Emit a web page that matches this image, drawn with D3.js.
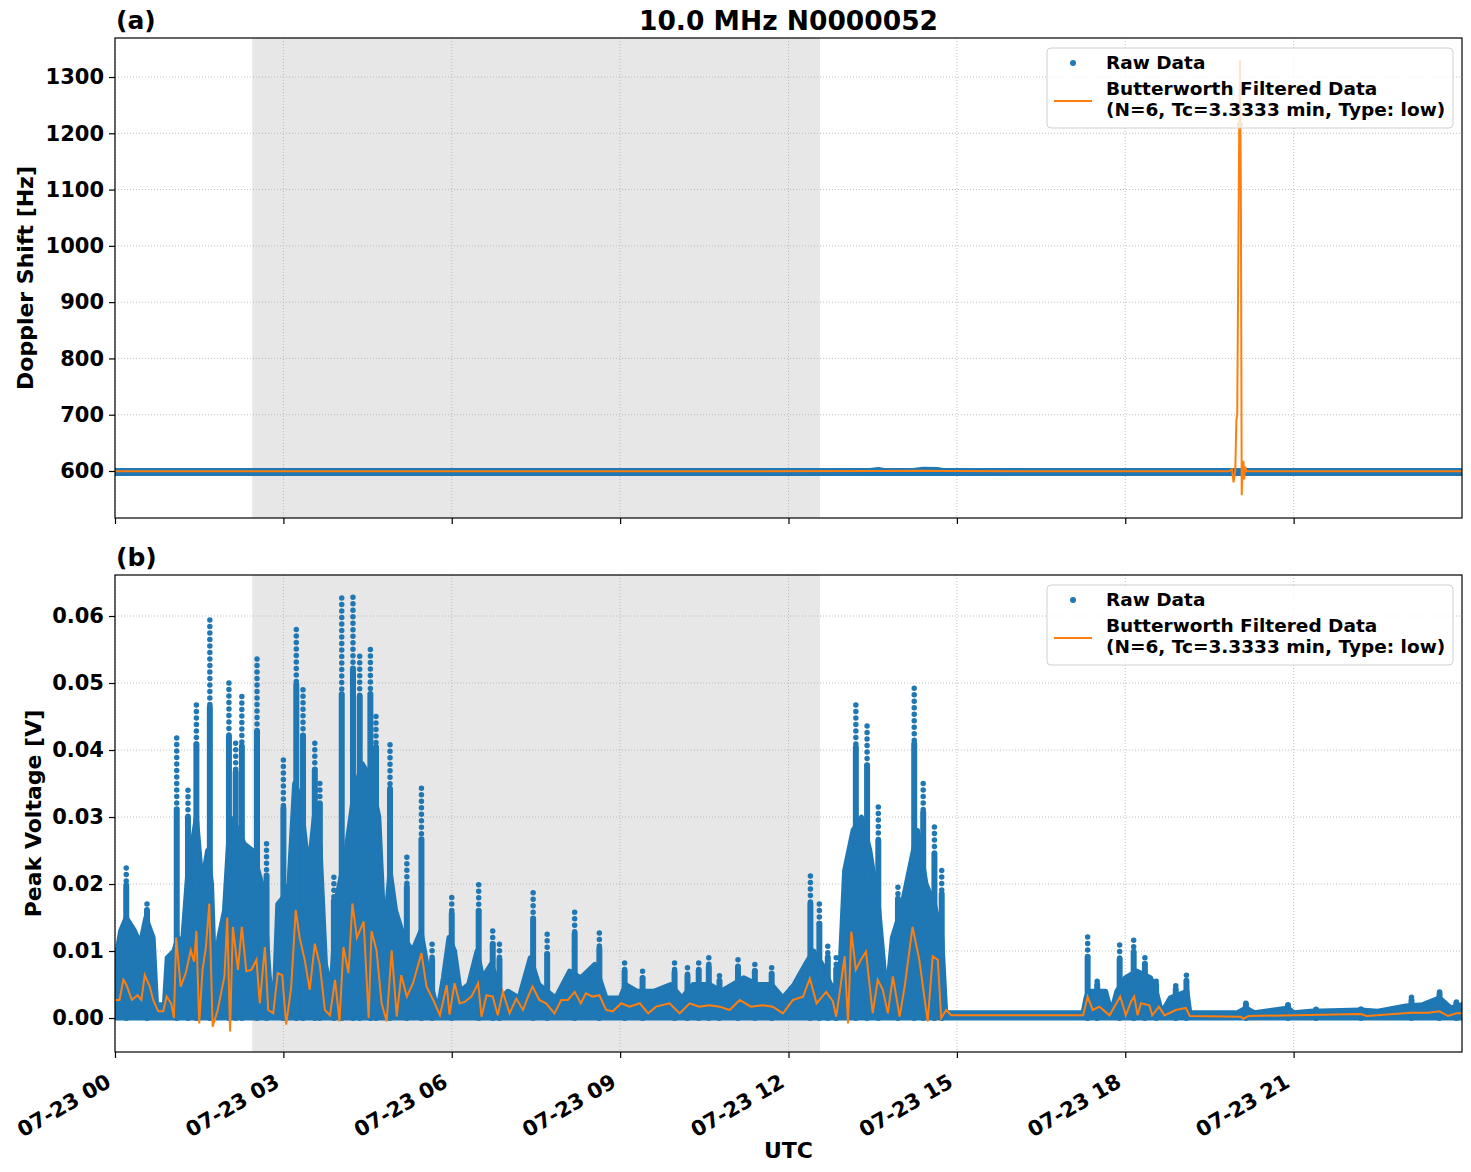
<!DOCTYPE html>
<html>
<head>
<meta charset="utf-8">
<script src="https://cdn.jsdelivr.net/npm/d3@7"></script>
<style>
body { margin: 0; background: #fff; }
text { font-family: 'DejaVu Sans', sans-serif; font-weight: bold; fill: #000; }
</style>
</head>
<body>
<svg id="chart" width="1471" height="1172"></svg>
<script>

// hours after 07-23 00:00 UTC
const xTickHours = [0, 3, 6, 9, 12, 15, 18, 21]
const yTicksA = [600, 700, 800, 900, 1000, 1100, 1200, 1300]
const yTicksB = [0, 0.01, 0.02, 0.03, 0.04, 0.05, 0.06]
const shadeHours = [2.445, 12.56]

// panel (a) raw band: [hour, low, high]
const rawBandA = [
	[0, 595.5, 601], [13.45, 595.5, 601], [13.6, 595.5, 602.5], [13.7, 595.5, 601],
	[14.25, 595.5, 601.5], [14.4, 595.5, 603], [14.65, 595.5, 602.5], [14.75, 595.5, 601],
	[24, 595.5, 601]
]
const rawOutliersA = [[20.04, 1215]]

// panel (a) filtered: [hour, Hz]
const filtA = [
	[0, 599.5], [13.5, 599.8], [14.4, 600.5], [14.8, 599.8], [19.85, 599.5], [19.9, 603],
	[19.93, 580], [19.96, 600], [19.98, 690], [19.995, 700], [20.03, 1200], [20.045, 1330],
	[20.06, 1100], [20.075, 557], [20.09, 600], [20.105, 618], [20.12, 585], [20.135, 608],
	[20.16, 599.5], [24, 599.5]
]

// panel (b) dense part of raw data: [hour, top]
const rawBodyB = [
	[0, 0.008], [0.1, 0.013], [0.2, 0.015], [0.35, 0.013], [0.45, 0.011], [0.55, 0.015], [0.68, 0.012],
	[0.74, 0.002], [0.88, 0.002], [0.93, 0.009], [1.05, 0.010], [1.12, 0.012], [1.2, 0.011], [1.3, 0.022],
	[1.45, 0.030], [1.55, 0.020], [1.65, 0.025], [1.72, 0.020], [1.78, 0.005], [1.85, 0.012], [1.95, 0.016],
	[2.05, 0.030], [2.2, 0.028], [2.3, 0.026], [2.45, 0.025], [2.55, 0.022], [2.65, 0.019], [2.75, 0.006],
	[2.83, 0.001], [2.9, 0.017], [3.0, 0.018], [3.1, 0.020], [3.2, 0.035], [3.3, 0.033], [3.45, 0.022],
	[3.55, 0.030], [3.65, 0.026], [3.75, 0.008], [3.85, 0.004], [3.95, 0.018], [4.1, 0.024], [4.25, 0.033],
	[4.4, 0.038], [4.55, 0.036], [4.7, 0.030], [4.8, 0.012], [4.9, 0.022], [5.0, 0.016], [5.15, 0.012],
	[5.3, 0.010], [5.45, 0.013], [5.6, 0.006], [5.75, 0.001], [5.85, 0.006], [5.95, 0.012], [6.05, 0.010],
	[6.15, 0.004], [6.3, 0.005], [6.45, 0.010], [6.55, 0.006], [6.7, 0.008], [6.8, 0.006], [6.9, 0.003],
	[7.0, 0.004], [7.2, 0.003], [7.4, 0.009], [7.55, 0.005], [7.7, 0.004], [7.85, 0.003], [8.1, 0.007],
	[8.3, 0.006], [8.55, 0.008], [8.75, 0.003], [9.0, 0.003], [9.1, 0.005], [9.3, 0.004], [9.6, 0.004],
	[9.9, 0.005], [10.1, 0.003], [10.3, 0.005], [10.6, 0.005], [10.8, 0.004], [11.0, 0.005], [11.2, 0.006],
	[11.45, 0.005], [11.7, 0.005], [11.9, 0.003], [12.1, 0.005], [12.3, 0.008], [12.45, 0.010], [12.6, 0.008],
	[12.75, 0.005], [12.9, 0.004], [13.0, 0.022], [13.15, 0.028], [13.3, 0.030], [13.45, 0.025], [13.6, 0.017],
	[13.75, 0.003], [13.85, 0.012], [14.0, 0.016], [14.15, 0.022], [14.3, 0.028], [14.45, 0.020], [14.6, 0.017],
	[14.73, 0.012], [14.8, 0.001], [14.85, 0.0008], [17.25, 0.0008], [17.3, 0.003], [17.35, 0.004], [17.5, 0.004],
	[17.65, 0.004], [17.75, 0.0008], [17.85, 0.004], [18.0, 0.006], [18.2, 0.007], [18.45, 0.006], [18.55, 0.004],
	[18.65, 0.0008], [18.8, 0.003], [19.1, 0.004], [19.15, 0.0008], [20.0, 0.0008], [20.15, 0.0015], [20.3, 0.0008],
	[20.9, 0.0015], [21.0, 0.0008], [21.3, 0.001], [22.2, 0.0012], [22.5, 0.001], [23.0, 0.0018], [23.3, 0.002],
	[23.6, 0.003], [23.8, 0.0015], [24, 0.002]
]

// panel (b) raw peaks: [hour, max]
const rawPeaksB = [
	[0.2, 0.0224], [0.57, 0.017], [1.1, 0.0418], [1.3, 0.034], [1.45, 0.0467], [1.69, 0.0594], [2.03, 0.050],
	[2.15, 0.041], [2.26, 0.048], [2.53, 0.0536], [2.7, 0.026], [3.0, 0.0385], [3.23, 0.058], [3.35, 0.049],
	[3.56, 0.041], [3.65, 0.035], [3.9, 0.021], [4.04, 0.0627], [4.24, 0.0628], [4.36, 0.054], [4.55, 0.055],
	[4.65, 0.045], [4.9, 0.0408], [5.2, 0.024], [5.46, 0.0343], [5.65, 0.011], [6.0, 0.018], [6.48, 0.0199],
	[6.73, 0.013], [6.85, 0.011], [7.45, 0.0187], [7.7, 0.0125], [8.19, 0.0158], [8.63, 0.0127], [9.08, 0.0082],
	[9.4, 0.007], [9.97, 0.0082], [10.2, 0.0075], [10.4, 0.0082], [10.58, 0.009], [10.77, 0.0063], [11.1, 0.0087],
	[11.4, 0.008], [11.7, 0.0075], [12.39, 0.0212], [12.55, 0.017], [12.7, 0.0107], [12.85, 0.009], [13.2, 0.0467],
	[13.4, 0.0436], [13.6, 0.0315], [13.95, 0.0195], [14.24, 0.0492], [14.4, 0.035], [14.6, 0.0285], [14.73, 0.022],
	[17.33, 0.0121], [17.5, 0.0055], [17.9, 0.0109], [18.15, 0.0116], [18.35, 0.009], [18.55, 0.0055], [18.9, 0.0048],
	[19.09, 0.0064], [20.15, 0.0022], [20.9, 0.002], [21.4, 0.0013], [22.2, 0.0013], [23.1, 0.0031], [23.6, 0.0039],
	[23.9, 0.0024]
]

// panel (b) filtered: [hour, V]
const filtB = [
	[0, 0.0027], [0.08, 0.0027], [0.15, 0.0057], [0.2, 0.005], [0.3, 0.0027], [0.4, 0.0034], [0.47, 0.0027],
	[0.53, 0.0064], [0.62, 0.0047], [0.68, 0.0027], [0.77, 0.001], [0.86, 0.001], [0.92, 0.0032], [1.0, 0.0022],
	[1.05, 0], [1.09, 0.012], [1.17, 0.0047], [1.26, 0.0067], [1.35, 0.0101], [1.41, 0.0084], [1.45, 0.013],
	[1.5, -0.0008], [1.56, 0.0072], [1.62, 0.0106], [1.68, 0.0171], [1.74, -0.0013], [1.83, 0.0012], [1.95, 0.0062],
	[2.0, 0.015], [2.05, -0.002], [2.1, 0.0136], [2.19, 0.0072], [2.26, 0.0136], [2.34, 0.007], [2.43, 0.0072],
	[2.52, 0.0087], [2.58, 0.0022], [2.67, 0.0106], [2.73, 0.0012], [2.82, 0.0007], [2.9, 0.0067], [2.98, 0.0064],
	[3.05, -0.001], [3.14, 0.0047], [3.22, 0.0161], [3.29, 0.012], [3.38, 0.0087], [3.47, 0.0042], [3.56, 0.0111],
	[3.65, 0.0079], [3.74, 0.0012], [3.83, 0.0004], [3.92, 0.0057], [4.0, -0.0005], [4.07, 0.0106], [4.16, 0.0067],
	[4.23, 0.0171], [4.31, 0.012], [4.43, 0.0144], [4.52, 0], [4.57, 0.013], [4.66, 0.0101], [4.75, 0.0022],
	[4.84, -0.0005], [4.93, 0.0101], [5.02, 0.0002], [5.1, 0.0064], [5.2, 0.0032], [5.31, 0.0052], [5.46, 0.0097],
	[5.55, 0.0047], [5.67, 0.0027], [5.79, 0.0004], [5.91, 0.0049], [5.96, 0.0005], [6.05, 0.0052], [6.14, 0.0022],
	[6.23, 0.0024], [6.35, 0.0032], [6.47, 0.0052], [6.53, 0.0002], [6.62, 0.0034], [6.73, 0.0032], [6.82, 0.0004],
	[6.91, 0.0039], [7.03, 0.0007], [7.15, 0.0029], [7.27, 0.0012], [7.36, 0.0032], [7.44, 0.0047], [7.56, 0.0027],
	[7.68, 0.0022], [7.83, 0.0007], [7.95, 0.0027], [8.07, 0.0027], [8.19, 0.0039], [8.3, 0.0022], [8.39, 0.0037],
	[8.51, 0.0032], [8.63, 0.0034], [8.75, 0.0012], [8.87, 0.001], [9.02, 0.0022], [9.17, 0.0017], [9.35, 0.0022],
	[9.5, 0.0007], [9.64, 0.0017], [9.88, 0.0022], [10.06, 0.0007], [10.24, 0.0022], [10.41, 0.0017], [10.59, 0.0019],
	[10.77, 0.0017], [10.95, 0.0012], [11.13, 0.0027], [11.33, 0.0017], [11.54, 0.0019], [11.72, 0.0017], [11.9, 0.0007],
	[12.08, 0.0027], [12.26, 0.0032], [12.38, 0.0059], [12.5, 0.0022], [12.67, 0.0039], [12.79, 0.0025], [12.85, 0.0002],
	[12.91, 0.0037], [13.0, 0.0092], [13.06, -0.0008], [13.12, 0.0129], [13.2, 0.0072], [13.29, 0.0087], [13.38, 0.0099],
	[13.5, 0.0007], [13.59, 0.0057], [13.68, 0.0042], [13.77, 0.0007], [13.86, 0.0062], [13.98, 0.0002], [14.07, 0.0047],
	[14.21, 0.0136], [14.33, 0.0087], [14.48, -0.0005], [14.57, 0.0092], [14.66, 0.0087], [14.72, 0], [14.81, 0.0012],
	[14.9, 0.0004], [17.25, 0.0004], [17.33, 0.0032], [17.42, 0.0012], [17.54, 0.0017], [17.72, 0.0004], [17.91, 0.0032],
	[18.01, 0.0004], [18.1, 0.0024], [18.16, 0.0032], [18.22, 0.0004], [18.28, 0.0022], [18.43, 0.0019], [18.48, 0.0004],
	[18.6, 0.0017], [18.7, 0.0004], [18.9, 0.0012], [19.08, 0.0015], [19.15, 0.0003], [20.06, 0.0002], [20.1, -0.0001],
	[20.2, 0.0003], [22.2, 0.0006], [22.3, 0.0003], [23.1, 0.0008], [23.4, 0.0008], [23.6, 0.001], [23.75, 0.0003],
	[23.9, 0.0007], [24, 0.0007]
]

const blue = '#1f77b4'
const orange = '#ff7f0e'
const day0 = Date.UTC(2023, 6, 23)
const toDate = h => new Date(day0 + h * 3600e3)

const left = 115
const right = 1462
const panels = [
	{ id: 'a', top: 38, bottom: 518, domain: [516.5, 1369.3], ticks: yTicksA, fmt: d3.format('d'), label: 'Doppler Shift [Hz]', labelX: 33 },
	{ id: 'b', top: 575, bottom: 1052, domain: [-0.00507, 0.06612], ticks: yTicksB, fmt: d3.format('.2f'), label: 'Peak Voltage [V]', labelX: 41 }
]

const x = d3.scaleUtc()
	.domain([toDate(0), toDate(24)])
	.range([left, right])

const svg = d3.select('#chart')

panels.forEach(p => {
	p.y = d3.scaleLinear().domain(p.domain).range([p.bottom, p.top])
	const g = svg.append('g').attr('class', 'panel-' + p.id)

	g.append('clipPath')
		.attr('id', 'clip-' + p.id)
		.append('rect')
		.attr('x', left)
		.attr('y', p.top)
		.attr('width', right - left)
		.attr('height', p.bottom - p.top)

	g.append('rect')
		.attr('x', x(toDate(shadeHours[0])))
		.attr('y', p.top)
		.attr('width', x(toDate(shadeHours[1])) - x(toDate(shadeHours[0])))
		.attr('height', p.bottom - p.top)
		.style('fill', '#e7e7e7')

	// grid
	g.selectAll('line.vgrid')
		.data(xTickHours)
		.enter()
		.append('line')
		.attr('x1', d => x(toDate(d)))
		.attr('x2', d => x(toDate(d)))
		.attr('y1', p.top)
		.attr('y2', p.bottom)
		.style('stroke', '#b0b0b0')
		.style('stroke-width', 0.8)
		.style('stroke-dasharray', '1,2')

	g.selectAll('line.hgrid')
		.data(p.ticks)
		.enter()
		.append('line')
		.attr('x1', left)
		.attr('x2', right)
		.attr('y1', d => p.y(d))
		.attr('y2', d => p.y(d))
		.style('stroke', '#b0b0b0')
		.style('stroke-width', 0.8)
		.style('stroke-dasharray', '1,2')

	p.plot = g.append('g').attr('clip-path', 'url(#clip-' + p.id + ')')

	const xAxis = d3.axisBottom(x)
		.tickValues(xTickHours.map(toDate))
		.tickSize(6)
		.tickFormat(p.id === 'b' ? d3.utcFormat('%m-%d %H') : '')

	const gx = g.append('g')
		.attr('transform', `translate(0,${p.bottom})`)
		.call(xAxis)
	gx.select('.domain').remove()
	gx.selectAll('line').style('stroke', '#000').style('stroke-width', 1.2)
	gx.selectAll('text')
		.style('font-size', '21px')
		.attr('text-anchor', 'end')
		.attr('dy', null)
		.attr('y', 0)
		.attr('x', 0)
		.attr('transform', 'translate(-3,34) rotate(-30)')

	const yAxis = d3.axisLeft(p.y)
		.tickValues(p.ticks)
		.tickSize(6)
		.tickPadding(5)
		.tickFormat(p.fmt)

	const gy = g.append('g')
		.attr('transform', `translate(${left},0)`)
		.call(yAxis)
	gy.select('.domain').remove()
	gy.selectAll('line').style('stroke', '#000').style('stroke-width', 1.2)
	gy.selectAll('text').style('font-size', '21px')

	g.append('text')
		.attr('transform', `translate(${p.labelX},${(p.top + p.bottom) / 2}) rotate(-90)`)
		.attr('text-anchor', 'middle')
		.style('font-size', '22px')
		.text(p.label)

	g.append('text')
		.attr('x', left + 1)
		.attr('y', p.top - 9)
		.style('font-size', '25px')
		.text('(' + p.id + ')')
})

const pa = panels[0]
const pb = panels[1]

// panel (a) data
pa.plot.append('path')
	.datum(rawBandA)
	.attr('d', d3.area()
		.x(d => x(toDate(d[0])))
		.y0(d => pa.y(d[1]))
		.y1(d => pa.y(d[2])))
	.style('fill', blue)
	.style('stroke', blue)
	.style('stroke-width', 5)
	.style('stroke-linejoin', 'round')

pa.plot.selectAll('circle.out')
	.data(rawOutliersA)
	.enter()
	.append('circle')
	.attr('cx', d => x(toDate(d[0])))
	.attr('cy', d => pa.y(d[1]))
	.attr('r', 2.8)
	.style('fill', blue)

pa.plot.append('path')
	.datum(filtA)
	.attr('d', d3.line()
		.x(d => x(toDate(d[0])))
		.y(d => pa.y(d[1])))
	.style('fill', 'none')
	.style('stroke', orange)
	.style('stroke-width', 2)

// panel (b) data
const bodyAt = h => {
	const i = d3.bisector(d => d[0]).right(rawBodyB, h)
	const a = rawBodyB[Math.max(0, i - 1)]
	const b = rawBodyB[Math.min(rawBodyB.length - 1, i)]
	return b[0] === a[0] ? a[1] : a[1] + (b[1] - a[1]) * (h - a[0]) / (b[0] - a[0])
}

pb.plot.append('path')
	.datum(rawBodyB)
	.attr('d', d3.area()
		.x(d => x(toDate(d[0])))
		.y0(pb.y(0))
		.y1(d => pb.y(d[1])))
	.style('fill', blue)
	.style('stroke', blue)
	.style('stroke-width', 5)
	.style('stroke-linejoin', 'round')

const peaks = pb.plot.selectAll('g.peak')
	.data(rawPeaksB)
	.enter()
	.append('g')
	.attr('class', 'peak')

// solid column up to a point, then separate dots up to the maximum
const midOf = d => bodyAt(d[0]) + 0.65 * (d[1] - bodyAt(d[0]))

peaks.append('line')
	.attr('x1', d => x(toDate(d[0])))
	.attr('x2', d => x(toDate(d[0])))
	.attr('y1', pb.y(0))
	.attr('y2', d => pb.y(midOf(d)))
	.style('stroke', blue)
	.style('stroke-width', 6)
	.style('stroke-linecap', 'round')

peaks.append('line')
	.attr('x1', d => x(toDate(d[0])))
	.attr('x2', d => x(toDate(d[0])))
	.attr('y1', d => pb.y(d[1]))
	.attr('y2', d => pb.y(midOf(d)))
	.style('stroke', blue)
	.style('stroke-width', 5.5)
	.style('stroke-linecap', 'round')
	.style('stroke-dasharray', '0,6.5')

pb.plot.append('path')
	.datum(filtB)
	.attr('d', d3.line()
		.x(d => x(toDate(d[0])))
		.y(d => pb.y(d[1])))
	.style('fill', 'none')
	.style('stroke', orange)
	.style('stroke-width', 2)

// frames, legends
panels.forEach(p => {
	svg.append('rect')
		.attr('x', left)
		.attr('y', p.top)
		.attr('width', right - left)
		.attr('height', p.bottom - p.top)
		.style('fill', 'none')
		.style('stroke', '#000')
		.style('stroke-width', 1.2)

	const lg = svg.append('g')
		.attr('transform', `translate(1047,${p.top + 10})`)

	lg.append('rect')
		.attr('width', 406)
		.attr('height', 80)
		.attr('rx', 4)
		.style('fill', 'rgba(255,255,255,0.8)')
		.style('stroke', '#d0d0d0')
		.style('stroke-width', 1)

	lg.append('circle')
		.attr('cx', 26)
		.attr('cy', 15)
		.attr('r', 3)
		.style('fill', blue)

	lg.append('line')
		.attr('x1', 7)
		.attr('x2', 45)
		.attr('y1', 53)
		.attr('y2', 53)
		.style('stroke', orange)
		.style('stroke-width', 2)

	lg.selectAll('text')
		.data([['Raw Data', 21], ['Butterworth Filtered Data', 47], ['(N=6, Tc=3.3333 min, Type: low)', 68]])
		.enter()
		.append('text')
		.attr('x', 59)
		.attr('y', d => d[1])
		.style('font-size', '18.5px')
		.text(d => d[0])
})

svg.append('text')
	.attr('x', (left + right) / 2)
	.attr('y', 30)
	.attr('text-anchor', 'middle')
	.style('font-size', '26.5px')
	.text('10.0 MHz N0000052')

svg.append('text')
	.attr('x', (left + right) / 2)
	.attr('y', 1158)
	.attr('text-anchor', 'middle')
	.style('font-size', '22px')
	.text('UTC')

</script>
</body>
</html>
